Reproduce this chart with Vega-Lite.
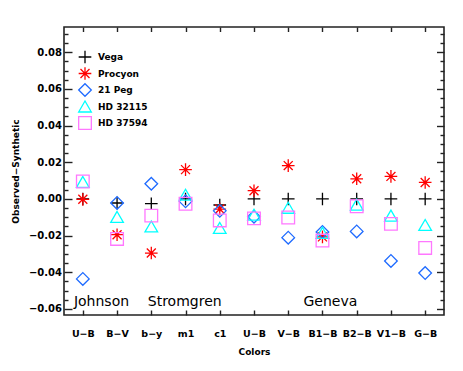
{
  "$schema": "https://vega.github.io/schema/vega-lite/v6.json",
  "autosize": "none",
  "width": 380,
  "height": 288,
  "padding": {"left": 64, "top": 27, "right": 19, "bottom": 56},
  "background": "white",
  "config": {
    "view": {"stroke": "#222", "strokeWidth": 1.6},
    "axis": {"labelFont": "DejaVu Sans", "titleFont": "DejaVu Sans", "labelFontWeight": "bold", "titleFontWeight": "bold", "labelColor": "#000", "titleColor": "#000", "ticks": true, "tickColor": "#222", "tickOpacity": 1, "tickWidth": 1.4, "domain": false, "grid": false}
  },
  "datasets": {
    "pts": [
      {"i": 1, "star": "Vega", "v": 0},
      {"i": 2, "star": "Vega", "v": -0.0022},
      {"i": 3, "star": "Vega", "v": -0.0026},
      {"i": 4, "star": "Vega", "v": 0},
      {"i": 5, "star": "Vega", "v": -0.0033},
      {"i": 6, "star": "Vega", "v": 0},
      {"i": 7, "star": "Vega", "v": 0},
      {"i": 8, "star": "Vega", "v": 0},
      {"i": 9, "star": "Vega", "v": 0},
      {"i": 10, "star": "Vega", "v": 0},
      {"i": 11, "star": "Vega", "v": 0},
      {"i": 1, "star": "Procyon", "v": -0.0002},
      {"i": 2, "star": "Procyon", "v": -0.0195},
      {"i": 3, "star": "Procyon", "v": -0.0295},
      {"i": 4, "star": "Procyon", "v": 0.016},
      {"i": 5, "star": "Procyon", "v": -0.0055},
      {"i": 6, "star": "Procyon", "v": 0.0045},
      {"i": 7, "star": "Procyon", "v": 0.0182},
      {"i": 8, "star": "Procyon", "v": -0.0207},
      {"i": 9, "star": "Procyon", "v": 0.011},
      {"i": 10, "star": "Procyon", "v": 0.0123},
      {"i": 11, "star": "Procyon", "v": 0.009},
      {"i": 1, "star": "21 Peg", "v": -0.0436},
      {"i": 2, "star": "21 Peg", "v": -0.0022},
      {"i": 3, "star": "21 Peg", "v": 0.0083},
      {"i": 4, "star": "21 Peg", "v": -0.0013},
      {"i": 5, "star": "21 Peg", "v": -0.0065},
      {"i": 6, "star": "21 Peg", "v": -0.0097},
      {"i": 7, "star": "21 Peg", "v": -0.0211},
      {"i": 8, "star": "21 Peg", "v": -0.018},
      {"i": 9, "star": "21 Peg", "v": -0.0177},
      {"i": 10, "star": "21 Peg", "v": -0.0338},
      {"i": 11, "star": "21 Peg", "v": -0.0404},
      {"i": 1, "star": "HD 32115", "v": 0.0093},
      {"i": 2, "star": "HD 32115", "v": -0.0098},
      {"i": 3, "star": "HD 32115", "v": -0.015},
      {"i": 4, "star": "HD 32115", "v": 0.0023},
      {"i": 5, "star": "HD 32115", "v": -0.0158},
      {"i": 6, "star": "HD 32115", "v": -0.0086},
      {"i": 7, "star": "HD 32115", "v": -0.0048},
      {"i": 8, "star": "HD 32115", "v": -0.0185},
      {"i": 9, "star": "HD 32115", "v": -0.0031},
      {"i": 10, "star": "HD 32115", "v": -0.0091},
      {"i": 11, "star": "HD 32115", "v": -0.0142},
      {"i": 1, "star": "HD 37594", "v": 0.0095},
      {"i": 2, "star": "HD 37594", "v": -0.0218},
      {"i": 3, "star": "HD 37594", "v": -0.0091},
      {"i": 4, "star": "HD 37594", "v": -0.0026},
      {"i": 5, "star": "HD 37594", "v": -0.0117},
      {"i": 6, "star": "HD 37594", "v": -0.0106},
      {"i": 7, "star": "HD 37594", "v": -0.0101},
      {"i": 8, "star": "HD 37594", "v": -0.0227},
      {"i": 9, "star": "HD 37594", "v": -0.004},
      {"i": 10, "star": "HD 37594", "v": -0.0136},
      {"i": 11, "star": "HD 37594", "v": -0.0267}
    ],
    "notes": [
      {"i": 1.546, "v": -0.0586, "label": "Johnson"},
      {"i": 3.976, "v": -0.0586, "label": "Stromgren"},
      {"i": 8.23, "v": -0.0586, "label": "Geneva"}
    ]
  },
  "resolve": {"axis": {"x": "independent", "y": "independent"}},
  "layer": [
    {
      "mark": {"type": "rule", "color": "#888", "strokeWidth": 1},
      "encoding": {
        "y": {"datum": 0, "type": "quantitative",
          "scale": {"domain": [-0.0633, 0.0938], "nice": false, "zero": false},
          "axis": {"orient": "left", "values": [-0.055, -0.05, -0.045, -0.035, -0.03, -0.025, -0.015, -0.01, -0.005, 0.005, 0.01, 0.015, 0.025, 0.03, 0.035, 0.045, 0.05, 0.055, 0.065, 0.07, 0.075, 0.085, 0.09], "labels": false, "ticks": true, "offset": -4, "tickSize": 4, "title": null}}
      }
    },
    {
      "mark": {"type": "rule", "strokeOpacity": 0},
      "encoding": {
        "y": {"datum": 0, "type": "quantitative",
          "scale": {"domain": [-0.0633, 0.0938], "nice": false, "zero": false},
          "axis": {"orient": "right", "values": [-0.055, -0.05, -0.045, -0.035, -0.03, -0.025, -0.015, -0.01, -0.005, 0.005, 0.01, 0.015, 0.025, 0.03, 0.035, 0.045, 0.05, 0.055, 0.065, 0.07, 0.075, 0.085, 0.09], "labels": false, "ticks": true, "offset": -4, "tickSize": 4, "title": null}}
      }
    },
    {
      "data": {"name": "notes"},
      "mark": {"type": "text", "font": "DejaVu Sans", "fontSize": 14, "align": "center", "baseline": "alphabetic", "color": "#000"},
      "encoding": {
        "x": {"field": "i", "type": "quantitative",
          "scale": {"domain": [0.45, 11.55], "nice": false, "zero": false},
          "axis": {"orient": "top", "values": [1, 2, 3, 4, 5, 6, 7, 8, 9, 10, 11], "labels": false, "ticks": true, "offset": -4.5, "tickSize": 4.5, "title": null}},
        "y": {"field": "v", "type": "quantitative",
          "scale": {"domain": [-0.0633, 0.0938], "nice": false, "zero": false},
          "axis": {"orient": "right", "values": [-0.06, -0.04, -0.02, 0, 0.02, 0.04, 0.06, 0.08], "labels": false, "ticks": true, "offset": -7.5, "tickSize": 7.5, "title": null}},
        "text": {"field": "label"}
      }
    },
    {
      "data": {"name": "pts"},
      "mark": {"type": "point", "filled": false, "strokeWidth": 1.3, "opacity": 1},
      "encoding": {
        "x": {"field": "i", "type": "quantitative",
          "scale": {"domain": [0.45, 11.55], "nice": false, "zero": false},
          "axis": {"orient": "bottom", "values": [1, 2, 3, 4, 5, 6, 7, 8, 9, 10, 11], "ticks": true, "offset": -5, "tickSize": 5, "labelPadding": 13, "labelFontSize": 9.5, "labelExpr": "['', 'U−B', 'B−V', 'b−y', 'm1', 'c1', 'U−B', 'V−B', 'B1−B', 'B2−B', 'V1−B', 'G−B'][datum.value]", "title": "Colors", "titleFontSize": 9, "titleX": 190, "titleY": 44.5, "titleBaseline": "alphabetic", "titleAlign": "center"}},
        "y": {"field": "v", "type": "quantitative",
          "scale": {"domain": [-0.0633, 0.0938], "nice": false, "zero": false},
          "axis": {"orient": "left", "values": [-0.06, -0.04, -0.02, 0, 0.02, 0.04, 0.06, 0.08], "format": ".2f", "ticks": true, "offset": -8, "tickSize": 8, "labelPadding": 2.5, "labelFontSize": 10, "title": "Observed−Synthetic", "titleFontSize": 9, "titleAngle": -90, "titleX": -57, "titleY": 144, "titleBaseline": "middle", "titleAlign": "center"}},
        "color": {"field": "star", "type": "nominal",
          "scale": {"domain": ["Vega", "Procyon", "21 Peg", "HD 32115", "HD 37594"], "range": ["#000000", "#ff0000", "#1f6bff", "#00ffff", "#ff77ff"]},
          "legend": {"title": null, "orient": "none", "legendX": 14, "legendY": 23, "padding": 0, "symbolSize": 150, "symbolStrokeWidth": 1.3, "labelOffset": 6, "rowPadding": -1.5, "labelFont": "DejaVu Sans", "labelFontWeight": "bold", "labelFontSize": 9, "labelColor": "#000"}},
        "shape": {"field": "star", "type": "nominal",
          "scale": {"domain": ["Vega", "Procyon", "21 Peg", "HD 32115", "HD 37594"], "range": ["M-1,0L1,0M0,-1L0,1", "M-1,0L1,0M0,-1L0,1M-0.71,-0.71L0.71,0.71M-0.71,0.71L0.71,-0.71", "diamond", "triangle-up", "square"]},
          "legend": {"title": null, "orient": "none", "legendX": 14, "legendY": 23, "padding": 0, "symbolSize": 150, "symbolStrokeWidth": 1.3, "labelOffset": 6, "rowPadding": -1.5, "labelFont": "DejaVu Sans", "labelFontWeight": "bold", "labelFontSize": 9, "labelColor": "#000"}},
        "size": {"field": "star", "type": "nominal", "legend": null,
          "scale": {"domain": ["Vega", "Procyon", "21 Peg", "HD 32115", "HD 37594"], "range": [160, 160, 121, 150, 132]}}
      }
    }
  ]
}
